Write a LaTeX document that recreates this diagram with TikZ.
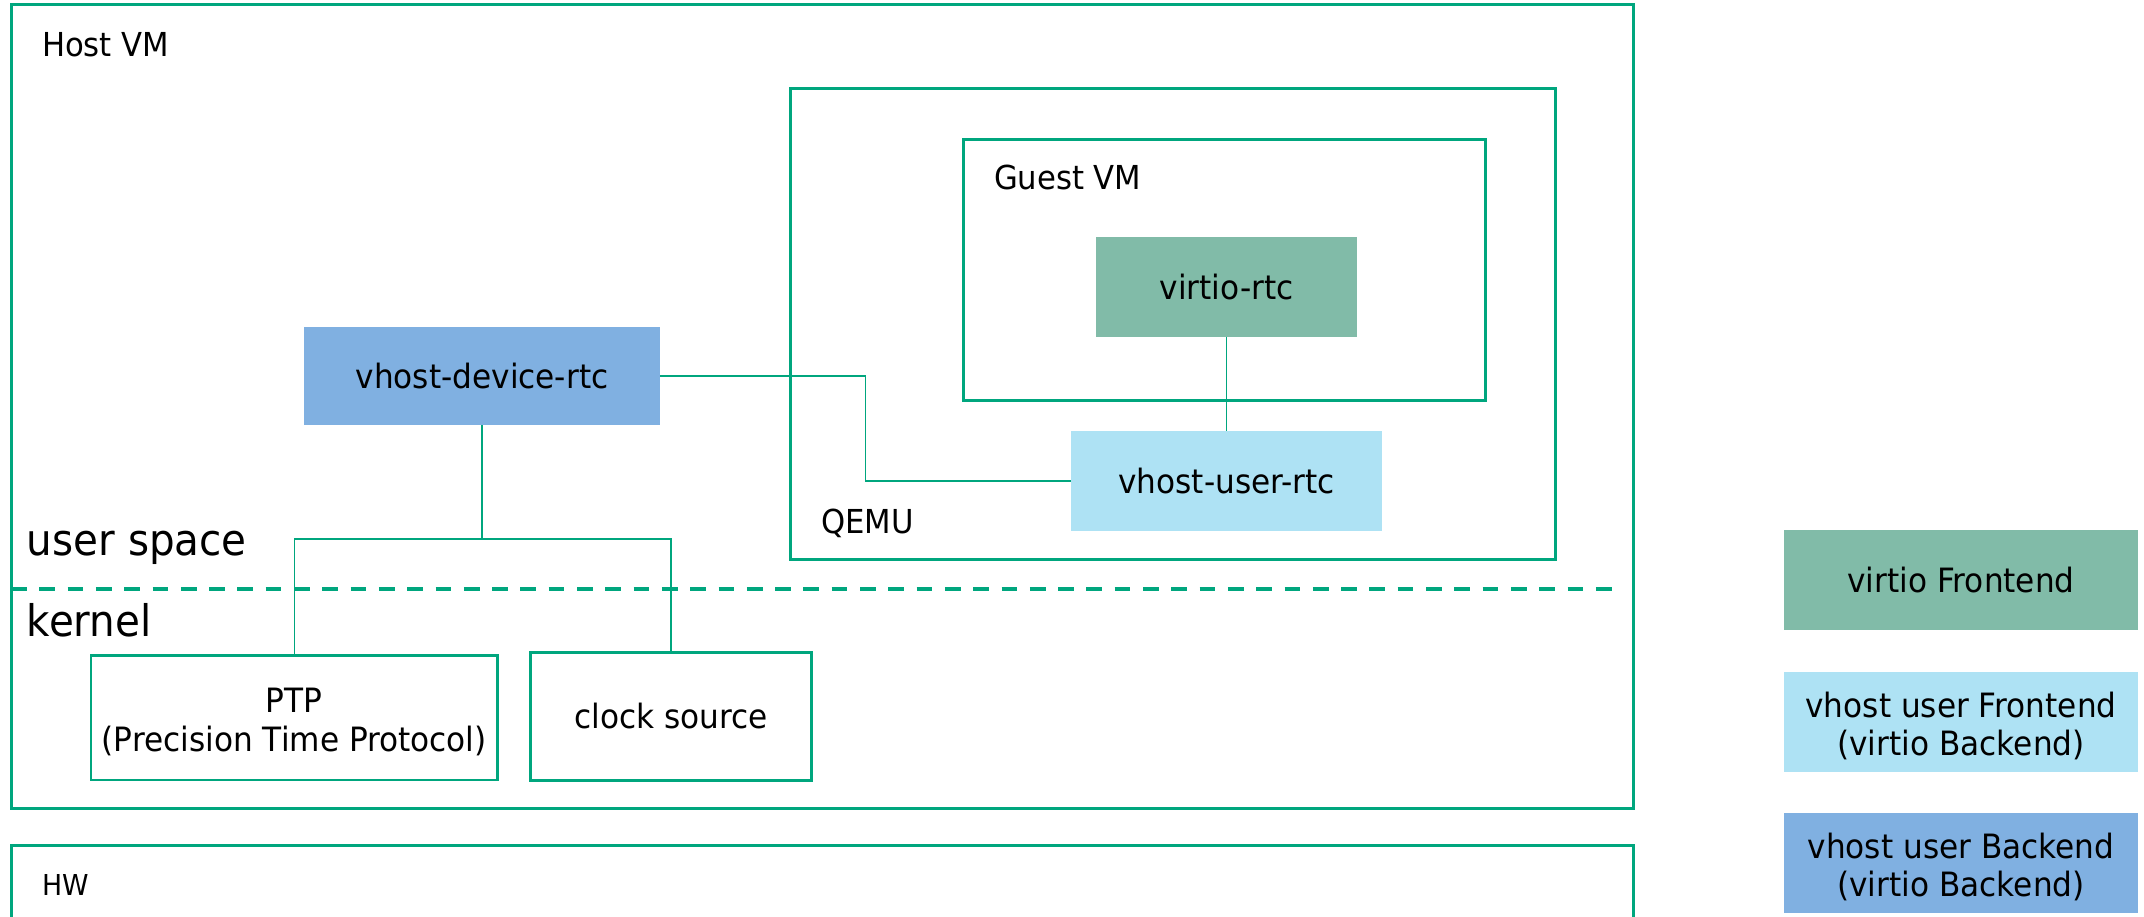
\documentclass[tikz,border=0pt]{standalone}
\usepackage{fontspec}
\setmainfont[FakeStretch=0.93]{DejaVu Sans}
\definecolor{lineg}{RGB}{0,166,126}
\definecolor{vfront}{RGB}{129,187,168}
\definecolor{vuserf}{RGB}{174,226,244}
\definecolor{vuserb}{RGB}{128,176,225}
\newcommand{\topstrut}{\rule{0pt}{33pt}}
\begin{document}
\begin{tikzpicture}[x=1pt,y=-1pt,
  container/.style={draw=lineg, line width=3pt, rectangle, inner sep=0pt, outer sep=0pt, anchor=north west},
  smallbox/.style={draw=lineg, line width=2.5pt, rectangle, inner sep=0pt, outer sep=0pt, align=center, font=\fontsize{33.5}{38.4}\selectfont},
  fillbox/.style={rectangle, inner sep=0pt, outer sep=0pt, align=center, font=\fontsize{33.5}{38.4}\selectfont},
  lbl/.style={inner sep=0pt, outer sep=0pt, anchor=base west, font=\fontsize{33}{38}\selectfont},
  biglbl/.style={inner sep=0pt, outer sep=0pt, anchor=base west, font=\fontsize{43.5}{48}\selectfont},
  conn/.style={draw=lineg, line width=1.5pt},
  divider/.style={draw=lineg, line width=4pt, dash pattern=on 15.7pt off 12.6pt}
]
\useasboundingbox (0,0) rectangle (2144,917);
\fill[white] (0,0) rectangle (2144,917);

% containers
\node[container, minimum width=1622pt, minimum height=803pt] (host) at (11,5) {};
\node[container, minimum width=1622pt, minimum height=200pt] (hw) at (11,845) {};
\node[container, minimum width=764.5pt, minimum height=470.5pt] (qemu) at (790.5,88.5) {};
\node[container, minimum width=521.5pt, minimum height=260.7pt] (guest) at (963.5,140) {};

% labels
\node[lbl] (hostlbl) at (42,57) {Host VM};
\node[lbl] (qemulbl) at (821,533) {QEMU};
\node[lbl] (guestlbl) at (994,190) {Guest VM};
\node[lbl, font=\fontsize{28.8}{33}\selectfont] (hwlbl) at (42.5,895) {HW};
\node[biglbl] (userlbl) at (27,555) {user space};
\node[biglbl] (kernlbl) at (27,636.7) {kernel};

% divider
\coordinate (dl) at (11,589.3);
\coordinate (dr) at (1624,589.3);
\draw[divider] (dl) -- (dr);

% filled boxes
\node[fillbox, fill=vfront, minimum width=261pt, minimum height=100pt] (vrtc) at (1226.5,287) {virtio-rtc};
\node[fillbox, fill=vuserf, minimum width=311pt, minimum height=100pt] (vuser) at (1226.5,481) {vhost-user-rtc};
\node[fillbox, fill=vuserb, minimum width=356.5pt, minimum height=98pt] (dev) at (482,376) {\raisebox{-2pt}{vhost-device-rtc}};

% kernel boxes
\node[smallbox, minimum width=406.5pt, minimum height=124.5pt] (ptp) at (294.3,717.8) {\topstrut PTP\\(Precision Time Protocol)};
\node[smallbox, minimum width=280.6pt, minimum height=128.4pt] (clk) at (671,716.5) {\raisebox{-2pt}{clock source}};

% connectors
\coordinate (j1) at (865.4,376);
\coordinate (j2) at (482,539);
\draw[conn] (dev.east) -- (j1) |- (vuser.west);
\draw[conn] (vrtc.south) -- (vuser.north);
\draw[conn] (dev.south) -- (j2) -| (ptp.north);
\draw[conn] (j2) -| (clk.north);

% legend
\node[fillbox, fill=vfront, minimum width=354pt, minimum height=99.4pt] (lg1) at (1961,580) {virtio Frontend};
\node[fillbox, fill=vuserf, minimum width=354pt, minimum height=99.4pt] (lg2) at (1961,722) {\topstrut vhost user Frontend\\(virtio Backend)};
\node[fillbox, fill=vuserb, minimum width=354pt, minimum height=99.7pt] (lg3) at (1961,863.2) {\topstrut vhost user Backend\\(virtio Backend)};
\end{tikzpicture}
\end{document}
